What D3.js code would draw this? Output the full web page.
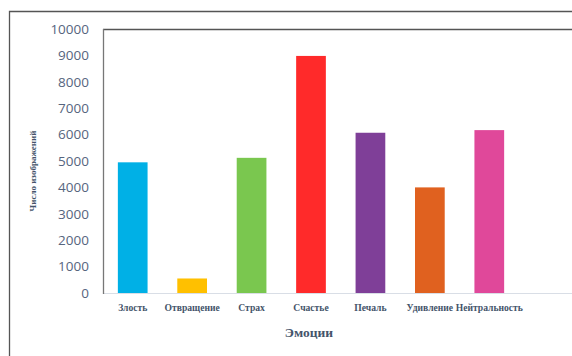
<!DOCTYPE html>
<html>
<head>
<meta charset="utf-8">
<script src="https://cdn.jsdelivr.net/npm/d3@7"></script>
<style>
  body { margin: 0; background: #fff; }
</style>
</head>
<body>
<div id="chart"></div>
<script>
var emotions = ['Злость', 'Отвращение', 'Страх', 'Счастье', 'Печаль', 'Удивление', 'Нейтральность'];
var counts = [4950, 550, 5120, 8980, 6070, 4000, 6170];
var colours = ['#00b0e6', '#ffc000', '#7ac74f', '#ff2a2a', '#7f3f98', '#e0611f', '#e0489a'];
var yTicks = [0, 1000, 2000, 3000, 4000, 5000, 6000, 7000, 8000, 9000, 10000];

(function() {
  var width = 572, height = 356;
  var svg = d3.select('#chart')
            .append('svg')
            .attr('width', width)
            .attr('height', height);

  var x = d3.scaleBand()
            .domain(emotions)
            .range([103, 519])
            .paddingInner(0.5)
            .paddingOuter(0.25);

  var y = d3.scaleLinear()
            .domain([0, 10000])
            .range([293, 29]);

  // outer frame
  svg.append('path')
    .attr('d', 'M9.5,' + height + 'V11.5H' + width)
    .attr('fill', 'none')
    .attr('stroke', '#555')
    .attr('stroke-width', 1.3);

  // inner frame top
  svg.append('line')
    .attr('x1', 103).attr('x2', width)
    .attr('y1', 29.5).attr('y2', 29.5)
    .attr('stroke', '#555')
    .attr('stroke-width', 1.3);

  // baseline
  svg.append('line')
    .attr('x1', 103).attr('x2', width)
    .attr('y1', y(0) + 0.5).attr('y2', y(0) + 0.5)
    .attr('stroke', '#d9dee6')
    .attr('stroke-width', 1.2);

  // y axis line
  svg.append('line')
    .attr('x1', 103.5).attr('x2', 103.5)
    .attr('y1', 29).attr('y2', y(0) + 1)
    .attr('stroke', '#777')
    .attr('stroke-width', 1.3);

  svg.selectAll('rect.bar')
    .data(counts)
    .enter()
    .append('rect')
    .attr('class', 'bar')
    .attr('x', function(d, i) { return x(emotions[i]); })
    .attr('y', function(d) { return y(d); })
    .attr('width', x.bandwidth())
    .attr('height', function(d) { return y(0) - y(d); })
    .attr('fill', function(d, i) { return colours[i]; });

  var yAxis = svg.append('g')
    .attr('transform', 'translate(89,0)')
    .call(d3.axisLeft(y).tickValues(yTicks).tickSize(0).tickPadding(0).tickFormat(d3.format('d')));
  yAxis.select('.domain').remove();
  yAxis.selectAll('text')
    .attr('fill', '#56657e')
    .attr('font-family', '"Open Sans", "Liberation Sans", sans-serif')
    .attr('font-size', 13.5);

  var xAxis = svg.append('g')
    .attr('transform', 'translate(0,' + y(0) + ')')
    .call(d3.axisBottom(x).tickSize(0).tickPadding(11));
  xAxis.select('.domain').remove();
  xAxis.selectAll('text')
    .attr('fill', '#44546a')
    .attr('font-family', '"Liberation Serif", "DejaVu Serif", serif')
    .attr('font-weight', 'bold')
    .attr('font-size', 9.6);

  svg.append('text')
    .attr('x', 309)
    .attr('y', 337)
    .attr('text-anchor', 'middle')
    .attr('fill', '#44546a')
    .attr('font-family', '"Liberation Serif", "DejaVu Serif", serif')
    .attr('font-weight', 'bold')
    .attr('font-size', 13.5)
    .text('Эмоции');

  svg.append('text')
    .attr('transform', 'translate(36,171) rotate(-90)')
    .attr('text-anchor', 'middle')
    .attr('fill', '#44546a')
    .attr('font-family', '"Liberation Serif", "DejaVu Serif", serif')
    .attr('font-weight', 'bold')
    .attr('font-size', 9)
    .text('Число изображений');
}());
</script>
</body>
</html>
